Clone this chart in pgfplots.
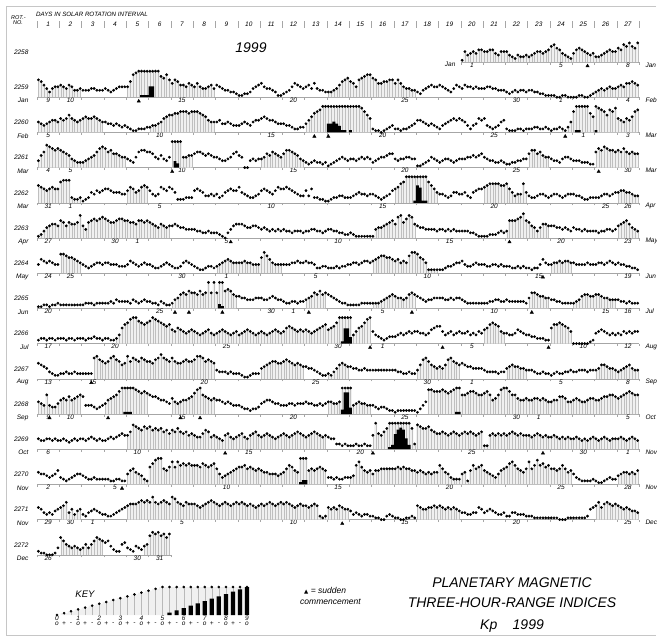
\documentclass[border=0pt]{standalone}
\usepackage{fontspec}
\setmainfont{Liberation Sans}
\newfontfamily\symfont{DejaVu Sans}
\usepackage{pgfplots}
\usepackage{pgfplotstable}
\pgfplotsset{compat=1.18}

% Kp values in thirds (0 = 0o, 1 = 0+, 2 = 1-, ..., 15 = 5o); values of 5o and above are drawn at 15,
% the excess is drawn as black bars from the storm lists below. One line per day, eight 3-hour values.
\pgfplotstableread[row sep=\\,header=false]{
1\\6\\4\\5\\6\\5\\7\\7\\
6\\6\\7\\7\\5\\4\\6\\6\\
6\\4\\3\\2\\4\\3\\3\\4\\
3\\4\\5\\6\\6\\5\\6\\7\\
9\\10\\8\\7\\5\\4\\3\\2\\
5\\7\\8\\7\\6\\5\\4\\5\\
3\\3\\4\\5\\6\\7\\6\\6\\
8\\7\\10\\9\\11\\9\\8\\11\\
}\rowA
\pgfplotstableread[row sep=\\,header=false]{
10\\9\\7\\5\\3\\5\\6\\6\\
7\\6\\5\\7\\6\\4\\4\\5\\
4\\4\\4\\5\\5\\4\\4\\4\\
5\\4\\3\\4\\5\\6\\6\\6\\
6\\9\\13\\14\\15\\15\\15\\15\\
15\\15\\15\\15\\12\\11\\13\\10\\
8\\10\\9\\7\\7\\6\\8\\7\\
6\\8\\6\\5\\5\\6\\7\\5\\
7\\6\\5\\4\\4\\3\\3\\2\\
1\\1\\2\\2\\3\\5\\6\\7\\
8\\6\\5\\5\\4\\3\\1\\1\\
2\\3\\4\\6\\8\\7\\6\\5\\
6\\7\\5\\8\\5\\4\\4\\3\\
3\\3\\4\\5\\7\\9\\10\\11\\
9\\8\\6\\10\\11\\12\\13\\13\\
11\\10\\8\\8\\9\\9\\10\\10\\
8\\10\\8\\6\\5\\5\\4\\4\\
3\\2\\4\\5\\6\\7\\6\\6\\
7\\6\\5\\4\\3\\5\\7\\6\\
5\\7\\6\\6\\5\\6\\5\\5\\
5\\6\\6\\5\\5\\4\\4\\4\\
3\\2\\3\\4\\3\\4\\4\\3\\
4\\4\\3\\3\\2\\2\\1\\1\\
1\\1\\0\\0\\1\\1\\0\\0\\
0\\0\\1\\1\\0\\0\\1\\2\\
3\\4\\5\\4\\5\\6\\5\\5\\
6\\7\\6\\8\\8\\9\\8\\7\\
}\rowB
\pgfplotstableread[row sep=\\,header=false]{
6\\5\\4\\5\\6\\7\\7\\6\\
8\\7\\8\\10\\8\\7\\6\\7\\
8\\9\\8\\8\\9\\8\\7\\6\\
6\\5\\5\\4\\5\\4\\3\\4\\
3\\2\\1\\1\\2\\2\\2\\3\\
3\\4\\4\\5\\6\\8\\9\\10\\
10\\11\\11\\12\\12\\12\\11\\12\\
12\\12\\11\\10\\9\\7\\6\\6\\
6\\7\\5\\5\\6\\5\\4\\4\\
4\\5\\6\\5\\4\\6\\7\\7\\
8\\9\\8\\7\\7\\6\\5\\5\\
5\\4\\4\\3\\2\\2\\3\\3\\
5\\7\\9\\11\\12\\13\\15\\15\\
15\\15\\15\\15\\15\\15\\15\\15\\
15\\15\\15\\15\\14\\12\\10\\8\\
2\\1\\1\\0\\1\\2\\3\\4\\
2\\2\\1\\2\\2\\3\\4\\5\\
7\\7\\6\\5\\4\\5\\4\\3\\
2\\4\\5\\6\\7\\8\\7\\8\\
7\\6\\4\\2\\4\\5\\8\\7\\
8\\4\\3\\2\\3\\4\\6\\7\\
2\\1\\1\\1\\2\\2\\1\\2\\
2\\2\\3\\3\\2\\2\\3\\2\\
1\\2\\2\\3\\2\\1\\3\\6\\
12\\15\\15\\15\\15\\15\\11\\9\\
15\\14\\13\\12\\10\\13\\12\\14\\
8\\7\\6\\8\\7\\9\\12\\13\\
}\rowC
\pgfplotstableread[row sep=\\,header=false]{
4\\7\\9\\13\\12\\11\\10\\11\\
10\\9\\8\\7\\5\\4\\3\\3\\
3\\4\\5\\6\\7\\9\\11\\12\\
11\\9\\10\\8\\8\\7\\6\\6\\
5\\4\\3\\6\\9\\10\\10\\9\\
9\\8\\6\\5\\7\\5\\4\\6\\
15\\15\\15\\15\\6\\6\\7\\7\\
8\\9\\9\\8\\7\\8\\7\\6\\
6\\5\\4\\4\\5\\6\\8\\9\\
7\\6\\0\\0\\4\\5\\4\\5\\
5\\6\\8\\7\\9\\8\\7\\6\\
8\\10\\10\\9\\8\\7\\5\\4\\
3\\2\\3\\4\\3\\3\\2\\3\\
1\\2\\3\\4\\5\\6\\5\\4\\
5\\5\\4\\5\\6\\5\\6\\5\\
3\\4\\5\\6\\6\\7\\8\\8\\
5\\4\\5\\5\\6\\6\\5\\5\\
1\\1\\2\\3\\4\\6\\5\\4\\
3\\4\\5\\5\\4\\3\\4\\5\\
5\\5\\6\\6\\7\\6\\7\\8\\
6\\5\\4\\4\\3\\3\\4\\3\\
2\\2\\3\\3\\4\\4\\5\\5\\
8\\10\\10\\8\\9\\7\\6\\6\\
5\\4\\4\\3\\5\\6\\6\\5\\
4\\4\\4\\3\\3\\3\\2\\2\\
9\\11\\10\\12\\11\\10\\10\\9\\
10\\9\\11\\9\\8\\9\\8\\8\\
}\rowD
\pgfplotstableread[row sep=\\,header=false]{
10\\9\\8\\7\\8\\9\\8\\8\\
12\\13\\13\\13\\3\\2\\2\\3\\
1\\2\\3\\6\\5\\7\\6\\7\\
8\\8\\7\\6\\6\\6\\5\\5\\
7\\9\\8\\6\\7\\9\\10\\9\\
7\\5\\4\\5\\9\\8\\7\\9\\
8\\6\\2\\2\\2\\3\\3\\3\\
7\\8\\7\\6\\4\\4\\5\\4\\
5\\3\\4\\6\\7\\8\\7\\7\\
9\\6\\5\\4\\3\\3\\4\\5\\
7\\8\\7\\6\\5\\7\\9\\8\\
8\\9\\8\\7\\6\\5\\4\\4\\
7\\4\\8\\3\\3\\2\\2\\1\\
1\\2\\3\\3\\4\\4\\3\\3\\
3\\4\\5\\6\\5\\5\\4\\5\\
5\\4\\3\\2\\3\\4\\5\\7\\
8\\9\\11\\12\\15\\15\\15\\15\\
15\\15\\15\\15\\12\\10\\8\\6\\
5\\5\\4\\3\\4\\6\\6\\5\\
5\\6\\4\\3\\6\\7\\8\\8\\
9\\10\\11\\11\\11\\11\\10\\10\\
11\\8\\6\\4\\5\\5\\11\\6\\
4\\3\\3\\4\\5\\5\\4\\3\\
4\\5\\5\\4\\3\\4\\5\\5\\
5\\4\\4\\3\\2\\2\\3\\3\\
3\\3\\4\\5\\5\\4\\5\\6\\
6\\7\\7\\6\\6\\5\\4\\4\\
}\rowE
\pgfplotstableread[row sep=\\,header=false]{
1\\2\\4\\6\\7\\8\\8\\7\\
10\\9\\7\\9\\8\\8\\9\\13\\
7\\5\\9\\10\\11\\10\\11\\12\\
11\\10\\9\\9\\10\\11\\11\\10\\
10\\9\\9\\8\\10\\10\\9\\10\\
9\\8\\7\\6\\8\\7\\6\\7\\
7\\8\\7\\6\\6\\5\\5\\5\\
5\\4\\4\\3\\3\\4\\3\\3\\
3\\2\\1\\0\\3\\5\\7\\8\\
8\\8\\7\\6\\6\\7\\7\\6\\
5\\6\\5\\4\\5\\4\\5\\4\\
5\\4\\4\\3\\4\\4\\4\\3\\
4\\4\\5\\5\\4\\4\\3\\4\\
5\\5\\4\\4\\3\\3\\2\\2\\
3\\2\\1\\1\\1\\1\\1\\1\\
1\\5\\6\\6\\7\\8\\9\\10\\
8\\12\\13\\9\\11\\13\\12\\8\\
7\\6\\6\\5\\5\\5\\5\\4\\
5\\5\\4\\5\\4\\5\\4\\4\\
4\\4\\4\\3\\3\\2\\1\\1\\
1\\1\\2\\2\\2\\3\\4\\3\\
4\\10\\10\\10\\11\\12\\14\\10\\
9\\7\\6\\4\\6\\8\\8\\7\\
7\\7\\6\\6\\5\\6\\5\\4\\
6\\5\\5\\4\\5\\4\\4\\4\\
4\\3\\4\\4\\5\\5\\4\\5\\
7\\8\\9\\10\\8\\6\\5\\4\\
}\rowF
\pgfplotstableread[row sep=\\,header=false]{
5\\8\\7\\6\\7\\6\\5\\5\\
11\\11\\10\\9\\9\\8\\7\\6\\
5\\4\\3\\4\\5\\6\\6\\5\\
6\\6\\5\\5\\5\\4\\4\\4\\
5\\7\\6\\5\\4\\5\\6\\5\\
5\\4\\3\\3\\4\\5\\6\\5\\
4\\3\\3\\4\\6\\7\\6\\5\\
4\\3\\2\\2\\3\\4\\4\\3\\
4\\5\\6\\7\\8\\7\\6\\6\\
6\\6\\7\\6\\6\\5\\5\\5\\
9\\12\\10\\8\\6\\5\\5\\5\\
5\\5\\5\\6\\6\\7\\6\\6\\
7\\6\\6\\5\\3\\3\\4\\4\\
3\\3\\3\\4\\3\\4\\4\\5\\
5\\6\\6\\5\\6\\7\\7\\6\\
7\\8\\9\\10\\10\\9\\9\\8\\
7\\8\\6\\7\\6\\10\\12\\12\\
11\\9\\8\\6\\2\\2\\2\\2\\
2\\2\\3\\4\\4\\5\\6\\6\\
7\\5\\4\\4\\5\\6\\5\\5\\
5\\4\\4\\5\\5\\4\\5\\4\\
4\\4\\3\\3\\4\\3\\4\\3\\
3\\2\\3\\3\\5\\8\\6\\5\\
5\\6\\6\\7\\6\\7\\7\\6\\
6\\5\\5\\5\\5\\6\\5\\5\\
5\\6\\6\\5\\6\\7\\6\\5\\
6\\5\\5\\4\\4\\3\\3\\2\\
}\rowG
\pgfplotstableread[row sep=\\,header=false]{
1\\1\\2\\2\\1\\2\\2\\3\\
2\\2\\2\\2\\2\\2\\2\\2\\
2\\3\\3\\3\\2\\3\\3\\3\\
3\\3\\4\\3\\5\\4\\4\\4\\
4\\3\\5\\4\\3\\4\\5\\4\\
4\\3\\3\\2\\4\\3\\2\\2\\
3\\5\\6\\8\\9\\8\\10\\9\\
9\\8\\10\\8\\9\\15\\9\\15\\
9\\15\\15\\10\\11\\10\\8\\7\\
7\\6\\6\\5\\5\\5\\6\\6\\
6\\5\\5\\6\\7\\6\\5\\5\\
4\\3\\3\\4\\4\\3\\4\\4\\
5\\6\\7\\9\\8\\10\\8\\9\\
8\\7\\6\\5\\4\\3\\3\\2\\
2\\2\\2\\2\\3\\3\\3\\3\\
3\\3\\3\\4\\5\\6\\7\\8\\
7\\6\\6\\5\\6\\8\\9\\8\\
7\\6\\5\\4\\5\\5\\6\\6\\
6\\6\\5\\5\\6\\5\\6\\6\\
5\\4\\3\\3\\3\\3\\3\\3\\
3\\3\\4\\4\\5\\5\\4\\4\\
5\\4\\4\\4\\4\\4\\4\\3\\
6\\9\\9\\8\\7\\7\\6\\6\\
5\\5\\4\\4\\3\\3\\3\\3\\
3\\4\\5\\7\\8\\8\\7\\7\\
8\\8\\7\\6\\6\\5\\5\\5\\
5\\4\\4\\3\\4\\3\\3\\3\\
}\rowH
\pgfplotstableread[row sep=\\,header=false]{
2\\3\\3\\2\\3\\3\\2\\3\\
3\\3\\2\\3\\3\\2\\3\\3\\
3\\2\\3\\3\\4\\3\\3\\2\\
3\\3\\2\\2\\3\\5\\9\\11\\
12\\14\\15\\15\\13\\12\\11\\12\\
13\\15\\14\\13\\12\\11\\10\\11\\
8\\7\\9\\8\\7\\6\\7\\8\\
7\\6\\5\\6\\7\\8\\6\\5\\
6\\7\\8\\7\\6\\5\\6\\7\\
5\\6\\7\\8\\7\\6\\5\\6\\
7\\6\\5\\6\\7\\8\\7\\6\\
7\\9\\10\\9\\8\\7\\8\\7\\
8\\7\\6\\7\\8\\9\\10\\11\\
8\\9\\10\\12\\15\\15\\15\\15\\
15\\5\\7\\9\\10\\12\\14\\15\\
7\\5\\4\\3\\2\\3\\4\\4\\
4\\5\\6\\5\\6\\7\\6\\7\\
7\\6\\6\\5\\6\\8\\9\\10\\
10\\7\\5\\6\\7\\5\\6\\7\\
6\\6\\7\\5\\6\\5\\7\\6\\
8\\9\\11\\12\\11\\10\\7\\6\\
6\\5\\5\\6\\8\\7\\6\\5\\
5\\4\\4\\3\\3\\3\\2\\2\\
9\\11\\11\\12\\11\\10\\9\\7\\
0\\0\\0\\0\\0\\0\\1\\2\\
6\\7\\8\\7\\6\\5\\6\\5\\
6\\5\\7\\6\\7\\6\\7\\7\\
}\rowI
\pgfplotstableread[row sep=\\,header=false]{
9\\8\\7\\6\\4\\3\\2\\2\\
3\\3\\4\\3\\3\\4\\3\\3\\
3\\3\\3\\3\\12\\13\\11\\10\\
9\\10\\12\\13\\11\\10\\8\\9\\
13\\10\\12\\11\\10\\12\\11\\10\\
10\\9\\11\\12\\14\\12\\11\\10\\
12\\10\\9\\9\\10\\11\\10\\10\\
11\\13\\13\\12\\10\\11\\10\\9\\
5\\4\\4\\4\\3\\4\\3\\3\\
3\\2\\1\\1\\2\\3\\3\\3\\
6\\7\\8\\9\\10\\10\\9\\9\\
10\\11\\10\\9\\8\\9\\8\\7\\
7\\6\\6\\5\\4\\3\\2\\2\\
3\\2\\4\\6\\8\\9\\8\\7\\
7\\6\\6\\5\\5\\6\\5\\5\\
5\\5\\5\\5\\5\\5\\5\\5\\
5\\4\\4\\3\\3\\4\\3\\3\\
5\\8\\11\\12\\10\\8\\7\\6\\
7\\6\\8\\11\\12\\10\\9\\8\\
9\\8\\7\\7\\6\\6\\6\\6\\
5\\4\\4\\4\\4\\3\\4\\4\\
6\\7\\8\\7\\7\\6\\6\\5\\
5\\5\\4\\3\\3\\4\\3\\3\\
2\\3\\4\\3\\3\\4\\4\\5\\
4\\4\\5\\5\\5\\4\\5\\5\\
5\\6\\8\\8\\7\\6\\6\\5\\
4\\5\\6\\7\\8\\6\\5\\5\\
}\rowJ
\pgfplotstableread[row sep=\\,header=false]{
7\\6\\5\\11\\5\\4\\4\\6\\
8\\9\\8\\10\\8\\9\\10\\11\\
10\\5\\5\\5\\4\\3\\4\\5\\
6\\8\\9\\10\\11\\13\\15\\15\\
15\\15\\15\\14\\13\\12\\13\\12\\
11\\10\\10\\9\\8\\8\\7\\6\\
9\\7\\6\\7\\8\\8\\9\\10\\
12\\14\\15\\11\\10\\9\\8\\9\\
8\\8\\7\\6\\7\\6\\5\\5\\
5\\4\\3\\3\\2\\3\\3\\4\\
6\\7\\8\\8\\7\\6\\6\\5\\
5\\5\\6\\6\\5\\6\\6\\6\\
7\\6\\6\\5\\5\\6\\5\\6\\
7\\7\\6\\6\\7\\15\\15\\15\\
15\\5\\6\\7\\6\\6\\5\\5\\
5\\4\\3\\4\\4\\3\\2\\2\\
1\\2\\2\\2\\2\\2\\2\\2\\
1\\3\\5\\7\\14\\14\\13\\13\\
13\\14\\13\\12\\13\\14\\15\\15\\
11\\11\\12\\13\\13\\12\\11\\11\\
12\\13\\11\\8\\9\\11\\14\\15\\
15\\13\\11\\11\\9\\8\\8\\9\\
8\\8\\9\\9\\8\\9\\8\\7\\
7\\8\\8\\10\\10\\9\\7\\7\\
8\\9\\8\\7\\7\\8\\9\\9\\
8\\8\\9\\10\\10\\11\\11\\10\\
9\\10\\11\\12\\13\\12\\11\\11\\
}\rowK
\pgfplotstableread[row sep=\\,header=false]{
6\\5\\5\\6\\6\\5\\6\\5\\
5\\6\\5\\4\\5\\6\\5\\6\\
6\\5\\6\\7\\6\\5\\6\\5\\
5\\6\\7\\6\\7\\8\\9\\8\\
8\\10\\14\\13\\12\\11\\13\\12\\
13\\11\\12\\11\\12\\10\\11\\9\\
11\\10\\12\\10\\9\\10\\8\\9\\
8\\7\\7\\9\\11\\10\\7\\8\\
7\\6\\5\\8\\9\\7\\6\\7\\
8\\9\\7\\6\\8\\9\\10\\8\\
7\\8\\9\\8\\7\\6\\7\\8\\
9\\8\\7\\8\\9\\10\\9\\8\\
7\\8\\9\\10\\9\\8\\7\\8\\
7\\6\\6\\3\\3\\2\\3\\2\\
2\\2\\3\\2\\2\\3\\2\\2\\
8\\15\\9\\8\\10\\12\\15\\15\\
15\\15\\15\\15\\15\\15\\12\\3\\
14\\13\\12\\12\\13\\11\\10\\9\\
9\\10\\9\\8\\9\\10\\9\\8\\
9\\10\\9\\10\\9\\8\\9\\10\\
2\\2\\8\\9\\8\\9\\8\\9\\
8\\9\\10\\9\\8\\9\\8\\8\\
8\\7\\8\\9\\8\\7\\8\\7\\
7\\8\\7\\6\\7\\6\\7\\6\\
6\\7\\6\\5\\6\\5\\6\\7\\
6\\5\\6\\7\\6\\5\\6\\6\\
6\\7\\6\\5\\6\\7\\6\\5\\
}\rowL
\pgfplotstableread[row sep=\\,header=false]{
7\\6\\6\\5\\4\\5\\6\\8\\
4\\3\\2\\3\\4\\5\\6\\6\\
5\\4\\3\\3\\4\\3\\3\\3\\
3\\3\\2\\2\\3\\3\\2\\2\\
6\\8\\9\\7\\6\\5\\3\\2\\
10\\12\\14\\15\\15\\9\\8\\10\\
13\\10\\13\\11\\12\\11\\12\\11\\
11\\11\\10\\12\\11\\10\\11\\12\\
9\\6\\4\\5\\6\\7\\8\\9\\
10\\10\\11\\9\\10\\9\\8\\9\\
8\\7\\7\\6\\6\\6\\5\\6\\
7\\9\\11\\10\\8\\7\\15\\15\\
15\\8\\9\\8\\9\\10\\9\\8\\
4\\4\\3\\4\\3\\3\\4\\4\\
4\\5\\11\\13\\10\\8\\7\\8\\
6\\8\\8\\9\\9\\9\\9\\9\\
9\\10\\9\\10\\9\\9\\8\\8\\
7\\8\\7\\6\\7\\6\\7\\7\\
11\\9\\7\\6\\4\\3\\3\\3\\
6\\7\\2\\8\\11\\9\\10\\11\\
8\\7\\6\\5\\4\\6\\8\\9\\
10\\12\\13\\11\\9\\8\\7\\9\\
13\\9\\11\\14\\11\\12\\10\\11\\
9\\9\\8\\9\\11\\9\\7\\8\\
6\\4\\3\\2\\2\\2\\2\\3\\
2\\1\\1\\2\\3\\4\\3\\3\\
5\\6\\7\\7\\6\\7\\6\\8\\
}\rowM
\pgfplotstableread[row sep=\\,header=false]{
7\\6\\4\\3\\4\\3\\5\\6\\
7\\8\\10\\4\\6\\3\\5\\6\\
3\\2\\4\\5\\6\\5\\4\\3\\
3\\2\\2\\3\\4\\5\\6\\7\\
8\\9\\9\\9\\10\\11\\10\\11\\
10\\13\\10\\9\\10\\11\\10\\9\\
13\\12\\10\\9\\8\\10\\9\\9\\
9\\8\\7\\8\\9\\10\\11\\10\\
9\\8\\9\\10\\9\\8\\9\\10\\
9\\10\\9\\8\\9\\8\\7\\8\\
9\\8\\9\\10\\9\\8\\9\\10\\
9\\10\\9\\8\\7\\8\\9\\8\\
8\\7\\8\\9\\8\\2\\1\\2\\
7\\6\\7\\6\\8\\7\\6\\6\\
5\\3\\4\\3\\2\\3\\3\\2\\
2\\1\\1\\0\\0\\2\\3\\2\\
1\\1\\0\\0\\1\\1\\2\\1\\
8\\7\\6\\6\\7\\7\\8\\7\\
8\\7\\6\\7\\6\\7\\6\\5\\
4\\4\\3\\3\\4\\4\\7\\6\\
4\\5\\6\\5\\4\\3\\3\\4\\
2\\2\\4\\4\\3\\3\\3\\2\\
2\\2\\1\\1\\1\\1\\1\\1\\
1\\1\\1\\0\\0\\0\\1\\1\\
1\\1\\1\\1\\1\\2\\6\\7\\
8\\10\\7\\9\\10\\9\\8\\9\\
8\\7\\6\\7\\6\\5\\5\\4\\
}\rowN
\pgfplotstableread[row sep=\\,header=false]{
2\\1\\1\\0\\0\\0\\1\\4\\
10\\8\\6\\5\\4\\5\\4\\3\\
4\\6\\4\\6\\8\\10\\9\\8\\
7\\8\\5\\3\\2\\2\\6\\7\\
4\\3\\2\\5\\4\\3\\5\\6\\
11\\13\\12\\13\\11\\12\\10\\12\\
}\rowO
% the key: every Kp step from 0o to 9o
\pgfplotstableread[row sep=\\,header=false]{
0\\1\\2\\3\\4\\5\\6\\7\\8\\9\\10\\11\\12\\13\\14\\
15\\15\\15\\15\\15\\15\\15\\15\\15\\15\\15\\15\\15\\
}\keyT

\newcommand\lab{\fontsize{6.5}{7}\selectfont\itshape}

\pgfplotsset{
  kprow/.style={
    x=2.7875pt, y=1.73333pt,
    ymin=0, ymax=15,
    enlargelimits=false, clip=false,
    anchor=south west,
    axis x line=bottom, axis y line=none,
    x axis line style={-, gray!70, line width=0.35pt},
    xtick={0,8,...,216}, xticklabels={},
    major tick length=2.5pt, tick align=outside,
    x tick style={gray!70, line width=0.35pt},
    tick label style={font=\lab, inner sep=0.6pt},
    extra x tick style={major tick length=0pt},
  },
  kpstorm/.style={
    x=2.7875pt, y=2.16667pt,
    ymin=15, ymax=27,
    enlargelimits=false, hide axis,
    anchor=south west,
  },
}

% #1 baseline below the top edge, #2 first interval, #3 last interval, #4 table,
% #5 hatched interval ranges, #6 sudden commencements, #7 date positions, #8 dates
\newcommand\kprow[8]{%
  \begin{axis}[kprow, at={(37pt+#2*2.7875pt,-#1pt)}, xmin=#2, xmax=#3,
      extra x ticks={#7}, extra x tick labels={#8}]
    \pgfplotsinvokeforeach{#5}{%
      \addplot[draw=none, fill=gray!12, const plot mark mid, restrict x to domain=##1]
        table[x expr=\coordindex+#2+0.5, y index=0] {#4} \closedcycle;
      \addplot[ycomb, draw=gray!50, line width=0.3pt, restrict x to domain=##1]
        table[x expr=\coordindex+#2+0.5, y index=0] {#4};
    }
    \addplot[only marks, mark=*, mark size=1.2pt, black]
      table[x expr=\coordindex+#2+0.5, y index=0] {#4};
    \ifx\relax#6\relax\else
      \addplot[only marks, mark=triangle*, mark size=1.9pt, black] coordinates {#6};
    \fi
  \end{axis}}

% storm bars: Kp above 5o, growing from the baseline to full height at 9o
\newcommand\kpstorm[4]{%
  \begin{axis}[kpstorm, at={(37pt+#2*2.7875pt,-#1pt)}, xmin=#2, xmax=#3]
    \addplot[ybar, bar width=1, fill=black, draw=none] coordinates {#4};
  \end{axis}}

% rotation number, month on the left, month on the right
\newcommand\rowlab[4]{%
  \node[anchor=east, font=\lab] at (32pt,-#1pt+10pt) {#2};
  \node[anchor=east, font=\lab] at (32pt,-#1pt-3.5pt) {#3};
  \node[anchor=west, font=\lab] at (642pt,-#1pt-3pt) {#4};}

\begin{document}
\begin{tikzpicture}[font=\itshape]
\useasboundingbox (0,0) rectangle (657pt,-637pt);
\draw[gray!45, line width=0.6pt] (656pt,-6pt) -- (6pt,-6pt) -- (6pt,-635pt) -- (656pt,-635pt);

% header
\node[anchor=west, font=\fontsize{6.2}{7}\selectfont\itshape, inner sep=0pt] at (36pt,-14pt) {DAYS IN SOLAR ROTATION INTERVAL};
\node[anchor=west, font=\fontsize{5.5}{6}\selectfont\itshape, inner sep=0pt] at (11pt,-18pt) {ROT.-};
\node[anchor=west, font=\fontsize{5.5}{6}\selectfont\itshape, inner sep=0pt] at (13pt,-22.5pt) {NO.};
\foreach \d in {1,...,27}
  \node[font=\lab] at ({(37+(\d-0.5)*22.3)*1pt},-24.5pt) {\d};
\foreach \d in {0,...,27}
  \draw[gray!70, line width=0.35pt] ({(37+\d*22.3)*1pt},-21pt) -- ({(37+\d*22.3)*1pt},-28pt);
\node[font=\fontsize{14}{16}\selectfont\itshape] at (251pt,-48pt) {1999};

% rotations 2258 to 2272
\kprow{62}{152}{216}{\rowA}{152:216}{(197.5,-2.3)}{156,188,212}{1,5,8}
\kprow{97.2}{0}{216}{\rowB}{0:16,32:64,104:136,200:216}{(36.5,-2.3)}{4,12,52,92,132,172,188,212}{9,10,15,20,25,30,1,4}
\kpstorm{97.2}{0}{216}{(37.5,16)(38.5,16)(39.5,16)(40.5,20)(41.5,20)}
\kprow{132.4}{0}{216}{\rowC}{0:24,40:64,96:120,188:216}{(99.5,-2.3)(104.5,-2.3)(189.5,-2.3)}{4,44,84,124,164,196,212}{5,10,15,20,25,1,3}
\kpstorm{132.4}{0}{216}{(104.5,19)(105.5,19)(106.5,20)(107.5,19)(108.5,18)(109.5,16)(110.5,16)(112.5,16)(193.5,16)(194.5,16)(200.5,16)}
\kprow{167.6}{0}{216}{\rowD}{0:32,48:56,80:96,176:184,200:216}{(48.5,-2.3)(201.5,-2.3)}{4,12,52,92,132,172,212}{4,5,10,15,20,25,30}
\kpstorm{167.6}{0}{216}{(49.5,18)(50.5,17)}
\kprow{202.8}{0}{216}{\rowE}{0:16,32:40,128:144,160:176,208:216}{}{4,12,44,84,124,164,204,212}{31,1,5,10,15,20,25,26}
\kpstorm{202.8}{0}{216}{(135.5,16)(136.5,23)(137.5,22)(138.5,16)(139.5,16)}
\kprow{238}{0}{216}{\rowF}{0:48,120:136,168:184,208:216}{(69.5,-2.3)(169.5,-2.3)}{4,28,36,68,108,148,188,212}{27,30,1,5,10,15,20,23}
\kprow{273.2}{0}{216}{\rowG}{8:16,64:88,120:144,184:192}{(181.5,-2.3)}{4,12,52,68,100,140,180,212}{24,25,30,1,5,10,15,19}
\kprow{308.4}{0}{216}{\rowH}{48:72,96:104,120:136,176:184,192:208}{(49.5,-2.3)(54.5,-2.3)(66.5,-2.3)(97.5,-2.3)(134.5,-2.3)(177.5,-2.3)}{4,44,84,92,124,164,204,212}{20,25,30,1,5,10,15,16}
\kpstorm{308.4}{0}{216}{(65.5,17)(66.5,16)}
\kprow{343.6}{0}{216}{\rowI}{28:120,160:168,184:192}{(119.5,-2.3)(145.5,-2.3)(183.5,-2.3)}{4,28,68,108,124,156,196,212}{17,20,25,30,1,5,10,12}
\kpstorm{343.6}{0}{216}{(109.5,16)(110.5,22)(111.5,22)(112.5,18)}
\kprow{378.8}{0}{216}{\rowJ}{20:64,80:96,104:112,136:152,168:176,200:216}{(19.5,-2.3)}{4,20,60,100,140,156,188,212}{13,15,20,25,30,1,5,8}
\kprow{414}{0}{216}{\rowK}{0:16,24:40,48:64,104:120,140:216}{(4.5,-2.3)(25.5,-2.3)(51.5,-2.3)(58.5,-2.3)}{4,12,52,92,132,172,180,212}{9,10,15,20,25,30,1,5}
\kpstorm{414}{0}{216}{(31.5,16)(32.5,16)(33.5,16)(109.5,17)(110.5,25)(111.5,25)(112.5,18)(150.5,16)(151.5,16)}
\kprow{449.2}{0}{216}{\rowL}{32:104,120:216}{(67.5,-2.3)(120.5,-2.3)(181.5,-2.3)}{4,36,76,116,156,196,212}{6,10,15,20,25,30,1}
\kpstorm{449.2}{0}{216}{(126.5,16)(127.5,17)(128.5,22)(129.5,24)(130.5,25)(131.5,24)(132.5,20)(133.5,17)}
\kprow{484.4}{0}{216}{\rowM}{32:104,112:192,208:216}{(30.5,-2.3)}{4,28,68,108,148,188,212}{2,5,10,15,20,25,28}
\kpstorm{484.4}{0}{216}{(94.5,16)(95.5,17)(96.5,17)}
\kprow{519.6}{0}{216}{\rowN}{8:16,32:112,136:152,200:216}{(109.5,-2.3)}{4,12,20,52,92,132,172,212}{29,30,1,5,10,15,20,25}
\kprow{554.8}{0}{48}{\rowO}{8:24,38:48}{}{4,36,44}{26,30,31}

\rowlab{62}{2258}{}{Jan}
\node[anchor=east, font=\lab] at (459pt,-64pt) {Jan};
\rowlab{97.2}{2259}{Jan}{Feb}
\rowlab{132.4}{2260}{Feb}{Mar}
\rowlab{167.6}{2261}{Mar}{Mar}
\rowlab{202.8}{2262}{Mar}{Apr}
\rowlab{238}{2263}{Apr}{May}
\rowlab{273.2}{2264}{May}{Jun}
\rowlab{308.4}{2265}{Jun}{Jul}
\rowlab{343.6}{2266}{Jul}{Aug}
\rowlab{378.8}{2267}{Aug}{Sep}
\rowlab{414}{2268}{Sep}{Oct}
\rowlab{449.2}{2269}{Oct}{Nov}
\rowlab{484.4}{2270}{Nov}{Nov}
\rowlab{519.6}{2271}{Nov}{Dec}
\rowlab{554.8}{2272}{Dec}{}

% key
\begin{axis}[x=7.037pt, y=1.86667pt, xmin=-0.5, xmax=27.5, ymin=0, ymax=15,
    enlargelimits=false, clip=false, anchor=south west, at={(53.48pt,-615pt)},
    axis x line=bottom, axis y line=none, x axis line style={draw=none},
    xtick={0,3,...,27}, major tick length=0pt,
    xticklabels={0,1,2,3,4,5,6,7,8,9},
    xticklabel style={font=\fontsize{6.5}{7}\selectfont\itshape, inner sep=0.5pt},
    extra x ticks={0,...,27},
    extra x tick labels={o,+,-,o,+,-,o,+,-,o,+,-,o,+,-,o,+,-,o,+,-,o,+,-,o,+,-,o},
    extra x tick style={tick label style={yshift=-6.5pt}}]
  \addplot[draw=none, fill=gray!12, const plot mark mid] table[x expr=\coordindex, y index=0] {\keyT} \closedcycle;
  \addplot[ycomb, draw=gray!55, line width=0.3pt] table[x expr=\coordindex, y index=0] {\keyT};
  \addplot[only marks, mark=*, mark size=1.1pt, black] table[x expr=\coordindex, y index=0] {\keyT};
\end{axis}
\begin{axis}[x=7.037pt, y=2.33333pt, xmin=-0.5, xmax=27.5, ymin=15, ymax=27,
    enlargelimits=false, hide axis, anchor=south west, at={(53.48pt,-615pt)}]
  \addplot[ybar, bar width=0.6, fill=black, draw=none] coordinates {
    (16,16)(17,17)(18,18)(19,19)(20,20)(21,21)(22,22)(23,23)(24,24)(25,25)(26,26)(27,27)};
\end{axis}
\node[font=\fontsize{9.5}{11}\selectfont\itshape] at (85pt,-594pt) {KEY};

\node[anchor=west, font=\fontsize{8.5}{10}\selectfont\itshape, inner sep=0pt] at (304pt,-591pt) {{\symfont\fontsize{5.5}{6}\selectfont ▲} = sudden};
\node[anchor=west, font=\fontsize{8.5}{10}\selectfont\itshape, inner sep=0pt] at (300pt,-602pt) {commencement};

\node[font=\fontsize{14}{16}\selectfont\itshape] at (512pt,-583pt) {PLANETARY MAGNETIC};
\node[font=\fontsize{14}{16}\selectfont\itshape] at (512pt,-603pt) {THREE-HOUR-RANGE INDICES};
\node[font=\fontsize{14}{16}\selectfont\itshape] at (512pt,-626pt) {Kp\hspace{1.1em}1999};
\end{tikzpicture}
\end{document}
